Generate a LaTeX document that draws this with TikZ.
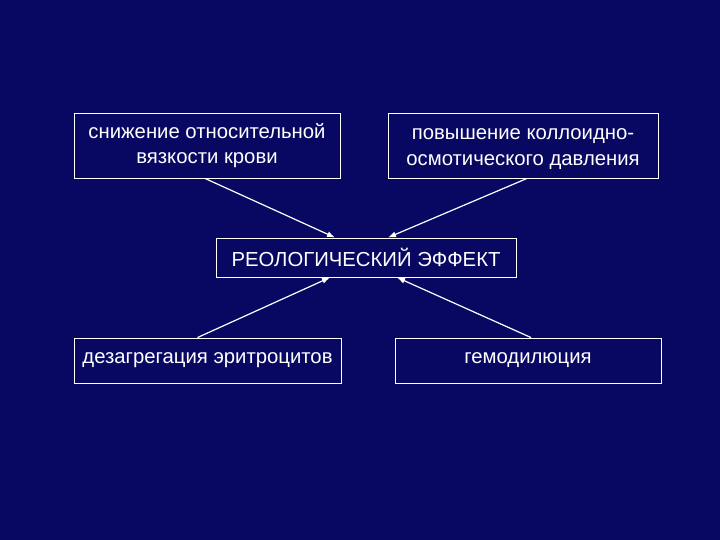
\documentclass[tikz,border=0pt]{standalone}
\usepackage{fontspec}
\setmainfont{Liberation Sans}
\usetikzlibrary{arrows.meta,calc}
\definecolor{navy}{RGB}{8,8,98}
\tikzset{
    box/.style = {draw=white, line width=0.9pt, text=white, align=center,
        inner sep=0pt, font=\fontsize{20.3}{25.5}\selectfont},
    link/.style = {draw=white, line width=1.2pt, -{Latex[length=8pt,width=6pt]}}
}

\begin{document}
\begin{tikzpicture}[x=1pt,y=-1pt]
\fill[navy] (0,0) rectangle (720,540);
\useasboundingbox (0,0) rectangle (720,540);

\node[box, minimum width=266pt, minimum height=65pt] (visc) at (207,145.5) {снижение относительной\\вязкости крови};
\node[box, minimum width=270pt, minimum height=65pt] (osm) at (523,145.5) {\strut повышение коллоидно-\\осмотического давления};
\node[box, minimum width=300pt, minimum height=39pt] (eff) at (366,257.5) {РЕОЛОГИЧЕСКИЙ ЭФФЕКТ};
\node[box, minimum width=267pt, minimum height=45pt, text depth=5pt] (dis) at (207.5,360.5) {дезагрегация эритроцитов};
\node[box, minimum width=266pt, minimum height=45pt, text depth=5pt] (hem) at (528,360.5) {гемодилюция};

\draw[link] ([xshift=-2pt]visc.south) -- ([xshift=-31pt]eff.north);
\draw[link] ([xshift=4pt]osm.south) -- ([xshift=22pt]eff.north);
\draw[link] ([xshift=-10pt]dis.north) -- ([xshift=-36pt]eff.south);
\draw[link] ([xshift=3pt]hem.north) -- ([xshift=31pt]eff.south);
\end{tikzpicture}
\end{document}
